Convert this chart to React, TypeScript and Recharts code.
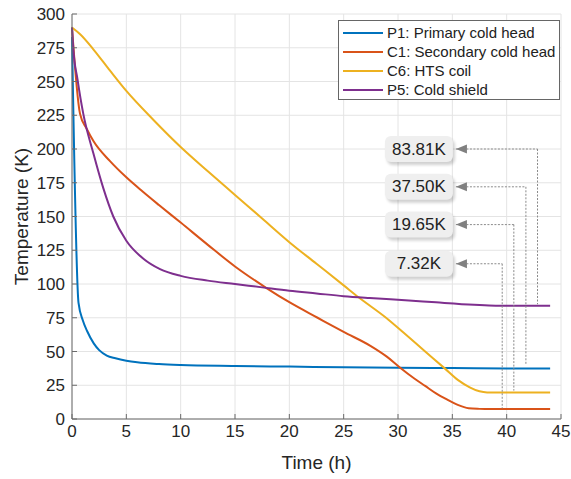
import React from 'react';
import {
  LineChart,
  Line,
  XAxis,
  YAxis,
  CartesianGrid,
  Legend,
  ReferenceLine,
  ReferenceDot,
  Label,
} from 'recharts';

const FONT = '"Liberation Sans", Arial, sans-serif';

const xTicks = [0, 5, 10, 15, 20, 25, 30, 35, 40, 45];
const yTicks = [0, 25, 50, 75, 100, 125, 150, 175, 200, 225, 250, 275, 300];

const seriesNames = ['P1: Primary cold head', 'C1: Secondary cold head', 'C6: HTS coil', 'P5: Cold shield'];
const seriesColors = ['#0072BD', '#D95319', '#EDB120', '#7E2F8E'];

// P1 primary cold head
const p1Time = [0, 0.6, 1.0, 1.4, 2, 2.5, 3.2, 4, 5, 6, 8, 10, 15, 20, 25, 30, 35, 40, 44];
const p1Temp = [283, 86, 73, 65, 56, 51, 47, 45, 43.2, 42, 40.7, 40, 39.3, 38.8, 38.3, 37.9, 37.7, 37.5, 37.5];

// C1 secondary cold head
const c1Time = [0, 0.74, 1.35, 2, 3.5, 5, 6.5, 8, 10, 12.5, 15, 17.9, 20, 22.6, 25, 27.5, 29, 30.2, 31.5, 32.5, 33.5, 34.5, 35.5, 36.5, 37.5, 38.5, 44];
const c1Temp = [290, 226, 215, 205.5, 191, 179, 168.5, 158.5, 145.5, 129, 113, 97, 86.5, 75, 64.5, 54, 46, 38, 30, 24.5, 19, 14.5, 10.5, 8, 7.5, 7.32, 7.32];

// C6 HTS coil
const c6Time = [0, 0.75, 2, 3.5, 5, 7.5, 10, 12.5, 15, 17.5, 20, 22.5, 25, 26.4, 28.9, 30.5, 32.5, 34.3, 35.5, 36.6, 37.5, 38.2, 44];
const c6Temp = [290, 285, 273.5, 258, 243, 221.5, 201.5, 183.5, 166, 148.5, 131, 115, 99, 90, 75, 64, 50, 37.5, 29, 23.5, 20.5, 19.7, 19.65];

// P5 cold shield
const p5Time = [0, 0.12, 0.5, 1.04, 1.96, 2.88, 3.8, 5, 6.6, 8.1, 10, 12.5, 15, 17.5, 20, 22.5, 25, 27.4, 31, 33.5, 37, 39, 44];
const p5Temp = [290, 274, 252, 226, 197, 171, 150, 132, 118.5, 111, 106, 102.5, 100, 97.5, 95, 93, 91, 89.6, 87.8, 86.4, 84.6, 83.9, 83.81];

// callouts with final temperatures
const calloutLabels = ['83.81K', '37.50K', '19.65K', '7.32K'];
const calloutY = [200, 172, 144, 115];
const calloutX = [42.84, 41.77, 40.66, 39.59];
const calloutEnd = [85, 40.7, 21, 7.9];
const calloutTip = 35.33;

const toPoints = (ts: number[], vs: number[]) => ts.map((t, i) => ({ t, v: vs[i] }));

const seriesData = [
  toPoints(p1Time, p1Temp),
  toPoints(c1Time, c1Temp),
  toPoints(c6Time, c6Temp),
  toPoints(p5Time, p5Temp),
];

const Callout = (props: any) => {
  const { cx, cy, text } = props;
  return (
    <g>
      <rect x={cx - 69} y={cy - 10} width={68} height={26} rx={6} fill="#000" opacity={0.18} filter="url(#calloutBlur)" />
      <rect x={cx - 71} y={cy - 13} width={68} height={26} rx={6} fill="#efefef" />
      <text x={cx - 37} y={cy} textAnchor="middle" dominantBaseline="central" fontSize={17} fill="#222" fontFamily={FONT}>
        {text}
      </text>
      <path d={`M${cx},${cy} L${cx + 11},${cy - 4.5} L${cx + 11},${cy + 4.5} Z`} fill="#808080" />
    </g>
  );
};

const LegendBox = () => (
  <div
    style={{
      width: 222,
      height: 80,
      border: '1px solid #666',
      background: '#fff',
      boxSizing: 'border-box',
      padding: '2px 0 0 4px',
      fontFamily: FONT,
      fontSize: 15,
      color: '#222',
    }}
  >
    {seriesNames.map((n, i) => (
      <div key={n} style={{ display: 'flex', alignItems: 'center', height: 19, whiteSpace: 'nowrap' }}>
        <span style={{ display: 'inline-block', width: 40, height: 2, background: seriesColors[i], marginRight: 4 }} />
        <span>{n}</span>
      </div>
    ))}
  </div>
);

const YTitle = (props: any) => {
  const { viewBox } = props;
  const cx = viewBox.x + 21;
  const cy = viewBox.y + viewBox.height / 2;
  return (
    <text x={cx} y={cy} transform={`rotate(-90 ${cx} ${cy})`} textAnchor="middle" dominantBaseline="central" fontSize={19} fill="#262626" fontFamily={FONT}>
      Temperature (K)
    </text>
  );
};

const XTitle = (props: any) => {
  const { viewBox } = props;
  const cx = viewBox.x + viewBox.width / 2;
  const cy = viewBox.y + 43;
  return (
    <text x={cx} y={cy} textAnchor="middle" dominantBaseline="central" fontSize={19} fill="#262626" fontFamily={FONT}>
      Time (h)
    </text>
  );
};

const tickStyle = { fill: '#262626', fontSize: 17, fontFamily: FONT };

export default function App() {
  return (
    <div style={{ position: 'absolute', left: 0, top: 0, background: '#fff' }}>
      <LineChart width={571} height={479} margin={{ top: 14, right: 10, bottom: 0, left: 0 }}>
        <defs>
          <filter id="calloutBlur" x="-20%" y="-40%" width="140%" height="180%">
            <feGaussianBlur stdDeviation="1.6" />
          </filter>
        </defs>
        <CartesianGrid stroke="#e4e4e4" />
        <XAxis
          dataKey="t"
          type="number"
          domain={[0, 45]}
          ticks={xTicks}
          interval={0}
          height={60}
          stroke="#6b6b6b"
          tickSize={-5}
          tickMargin={11}
          tick={tickStyle}
        >
          <Label content={<XTitle />} />
        </XAxis>
        <XAxis
          xAxisId="top"
          orientation="top"
          type="number"
          domain={[0, 45]}
          ticks={xTicks}
          interval={0}
          height={0}
          stroke="#6b6b6b"
          tickSize={-5}
          tick={false}
        />
        <YAxis
          type="number"
          domain={[0, 300]}
          ticks={yTicks}
          interval={0}
          width={72}
          stroke="#6b6b6b"
          tickSize={-5}
          tickMargin={12}
          tick={tickStyle}
        >
          <Label content={<YTitle />} />
        </YAxis>
        <YAxis
          yAxisId="right"
          orientation="right"
          type="number"
          domain={[0, 300]}
          ticks={yTicks}
          interval={0}
          width={0}
          stroke="#6b6b6b"
          tickSize={-5}
          tick={false}
        />
        {seriesData.map((d, i) => (
          <Line
            key={seriesNames[i]}
            data={d}
            dataKey="v"
            name={seriesNames[i]}
            type="monotone"
            stroke={seriesColors[i]}
            strokeWidth={2}
            dot={false}
            activeDot={false}
            isAnimationActive={false}
          />
        ))}
        {calloutLabels.map((lbl, i) => (
          <ReferenceLine
            key={`h-${lbl}`}
            segment={[
              { x: calloutTip, y: calloutY[i] },
              { x: calloutX[i], y: calloutY[i] },
            ]}
            stroke="#8a8a8a"
            strokeWidth={1}
            strokeDasharray="2 1.5"
          />
        ))}
        {calloutLabels.map((lbl, i) => (
          <ReferenceLine
            key={`v-${lbl}`}
            segment={[
              { x: calloutX[i], y: calloutY[i] },
              { x: calloutX[i], y: calloutEnd[i] },
            ]}
            stroke="#8a8a8a"
            strokeWidth={1}
            strokeDasharray="2 1.5"
          />
        ))}
        {calloutLabels.map((lbl, i) => (
          <ReferenceDot
            key={`d-${lbl}`}
            x={calloutTip}
            y={calloutY[i]}
            r={0}
            shape={(p: any) => <Callout {...p} text={lbl} />}
          />
        ))}
        <Legend
          layout="horizontal"
          verticalAlign="middle"
          align="center"
          wrapperStyle={{ top: 20, left: 338, width: 222, height: 80 }}
          content={() => <LegendBox />}
        />
      </LineChart>
    </div>
  );
}
